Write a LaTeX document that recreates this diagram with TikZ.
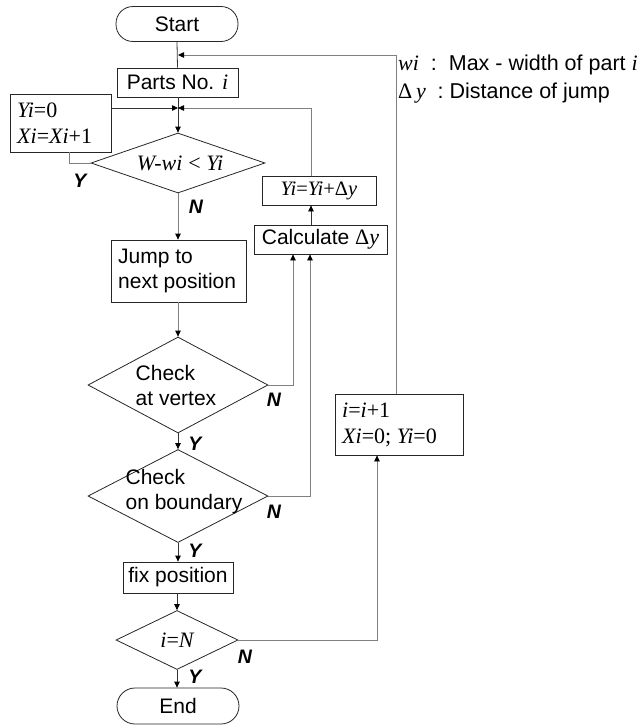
\documentclass[tikz,border=0pt]{standalone}
\usepackage{fontspec}
\setmainfont{Liberation Sans}
\newfontfamily\serif{Liberation Serif}
\usetikzlibrary{shapes.geometric,arrows.meta,calc}
\newcommand\Ivar[1]{{\serif\itshape\fontsize{22}{24}\selectfont #1}}
\newcommand\Urm[1]{{\serif\fontsize{22}{24}\selectfont #1}}
\newcommand\Ivs[1]{{\serif\itshape\fontsize{20.5}{22}\selectfont #1}}
\newcommand\Urs[1]{{\serif\fontsize{20.5}{22}\selectfont #1}}
\tikzset{
  every node/.style={font=\fontsize{21}{25}\selectfont},
  boxn/.style={draw=black!85, line width=0.8pt, inner sep=0pt},
  termn/.style={boxn, rounded corners=17pt},
  decn/.style={draw=black!85, line width=0.8pt, diamond, inner sep=0pt},
  flow/.style={draw=black!80, line width=0.8pt},
  loopl/.style={draw=black!50, line width=0.8pt},
  tip/.style={-{Triangle[length=6pt,width=5.5pt,black]}},
  yn/.style={font=\fontsize{19.5}{22}\selectfont\bfseries\itshape, inner sep=0pt},
  txt/.style={inner sep=0pt, align=left},
}
\begin{document}
\begin{tikzpicture}[x=1pt,y=-1pt]
\useasboundingbox (0,0) rectangle (642,726);

% nodes
\node[termn, minimum width=122, minimum height=35] (start) at (177,24) {Start};
\node[boxn, minimum width=121, minimum height=29] (parts) at (177.5,82.5) {Parts No. \Ivar{i}};
\node[boxn, minimum width=101, minimum height=58] (reset) at (60.5,123) {};
\node[txt, anchor=west] (resettxt) at (17,123) {\Ivar{Yi}\Urm{=0}\\[1pt]\Ivar{Xi}\Urm{=}\Ivar{Xi}\Urm{+1}};
\node[decn, minimum width=174, minimum height=60] (cmp) at (178,163) {};
\node[inner sep=0pt] (cmptxt) at (180,163) {\Ivar{W-wi} \Urm{<} \Ivar{Yi}};
\node[boxn, minimum width=114, minimum height=29] (upd) at (319,190.5) {\Ivs{Yi}\Urs{=}\Ivs{Yi}\Urs{+Δ}\Ivs{y}};
\node[boxn, minimum width=133, minimum height=29] (calc) at (320.5,239.5) {Calculate \Urm{Δ}\Ivar{y}};
\node[boxn, minimum width=135, minimum height=62] (jump) at (178.5,271) {};
\node[txt, anchor=west] (jumptxt) at (118,271) {Jump to\\next position};
\node[decn, minimum width=180, minimum height=96] (vert) at (178,385) {};
\node[txt] (verttxt) at (176,385) {Check\\at vertex};
\node[decn, minimum width=180, minimum height=93] (bound) at (178,496) {};
\node[txt] (boundtxt) at (184,492) {Check\\on boundary};
\node[boxn, minimum width=110, minimum height=31] (fix) at (178,577.5) {fix position};
\node[decn, minimum width=122, minimum height=59] (last) at (177,640) {};
\node[inner sep=0pt] (lasttxt) at (177,640) {\Ivar{i}\Urm{=}\Ivar{N}};
\node[termn, minimum width=122, minimum height=36, rounded corners=18pt] (endn) at (178,706) {End};
\node[boxn, minimum width=128, minimum height=61] (inc) at (399,424.5) {};
\node[txt, anchor=west] (inctxt) at (342,424.5) {\Ivar{i}\Urm{=}\Ivar{i}\Urm{+1}\\[1pt]\Ivar{Xi}\Urm{=0; }\Ivar{Yi}\Urm{=0}};

% legend
\node[txt, anchor=west, font=\fontsize{21.5}{25}\selectfont] (leg1) at (398,65) {\Ivar{wi}\ \ :\ \ Max - width of part \Ivar{i}};
\node[txt, anchor=west, font=\fontsize{21.5}{25}\selectfont] (leg2) at (398,93) {\Urm{Δ\,}\Ivar{y}\ \ :\ Distance of jump};

% junction points on the main line
\coordinate (jtop) at (178,55);
\coordinate (jmid) at (178,108);

% main flow
\draw[flow] (start.south) -- (parts.north);
\draw[flow,tip] (parts.south -| cmp.north) -- (cmp.north);
\draw[loopl,tip] (cmp.south) -- (jump.north -| cmp.south);
\draw[loopl,tip] (jump.south -| vert.north) -- (vert.north);
\draw[flow,tip] (vert.south) -- (bound.north);
\draw[flow,tip] (bound.south) -- (fix.north -| bound.south);
\draw[flow,tip] (fix.south -| last.north) -- (last.north);
\draw[flow,tip] (last.south) -- (endn.north -| last.south);

% loop back to the next part
\draw[loopl,tip] (inc.north -| 396,0) -- (396,55) -- (jtop);
\draw[loopl,tip] (last.east) -- (377,640) -- (inc.south -| 377,0);

% reset and update loops into the comparison
\draw[flow,tip] (reset.east |- jmid) -- (jmid);
\draw[loopl,tip] (upd.north -| 311,0) -- (311,108) -- (jmid);
\draw[loopl] (cmp.west) -- (69,163) -- (reset.south -| 69,0);
\draw[flow,tip] (calc.north -| 311,0) -- (upd.south -| 311,0);
\draw[loopl,tip] (vert.east) -- (293,385) -- (calc.south -| 293,0);
\draw[loopl,tip] (bound.east) -- (310,496) -- (calc.south -| 310,0);

% branch labels
\node[yn] (y1) at (80,181) {Y};
\node[yn] (n1) at (196,207) {N};
\node[yn] (n2) at (274,400) {N};
\node[yn] (y2) at (195,444) {Y};
\node[yn] (n3) at (274,512) {N};
\node[yn] (y3) at (195,551) {Y};
\node[yn] (n4) at (245,657) {N};
\node[yn] (y4) at (195,677) {Y};
\end{tikzpicture}
\end{document}
